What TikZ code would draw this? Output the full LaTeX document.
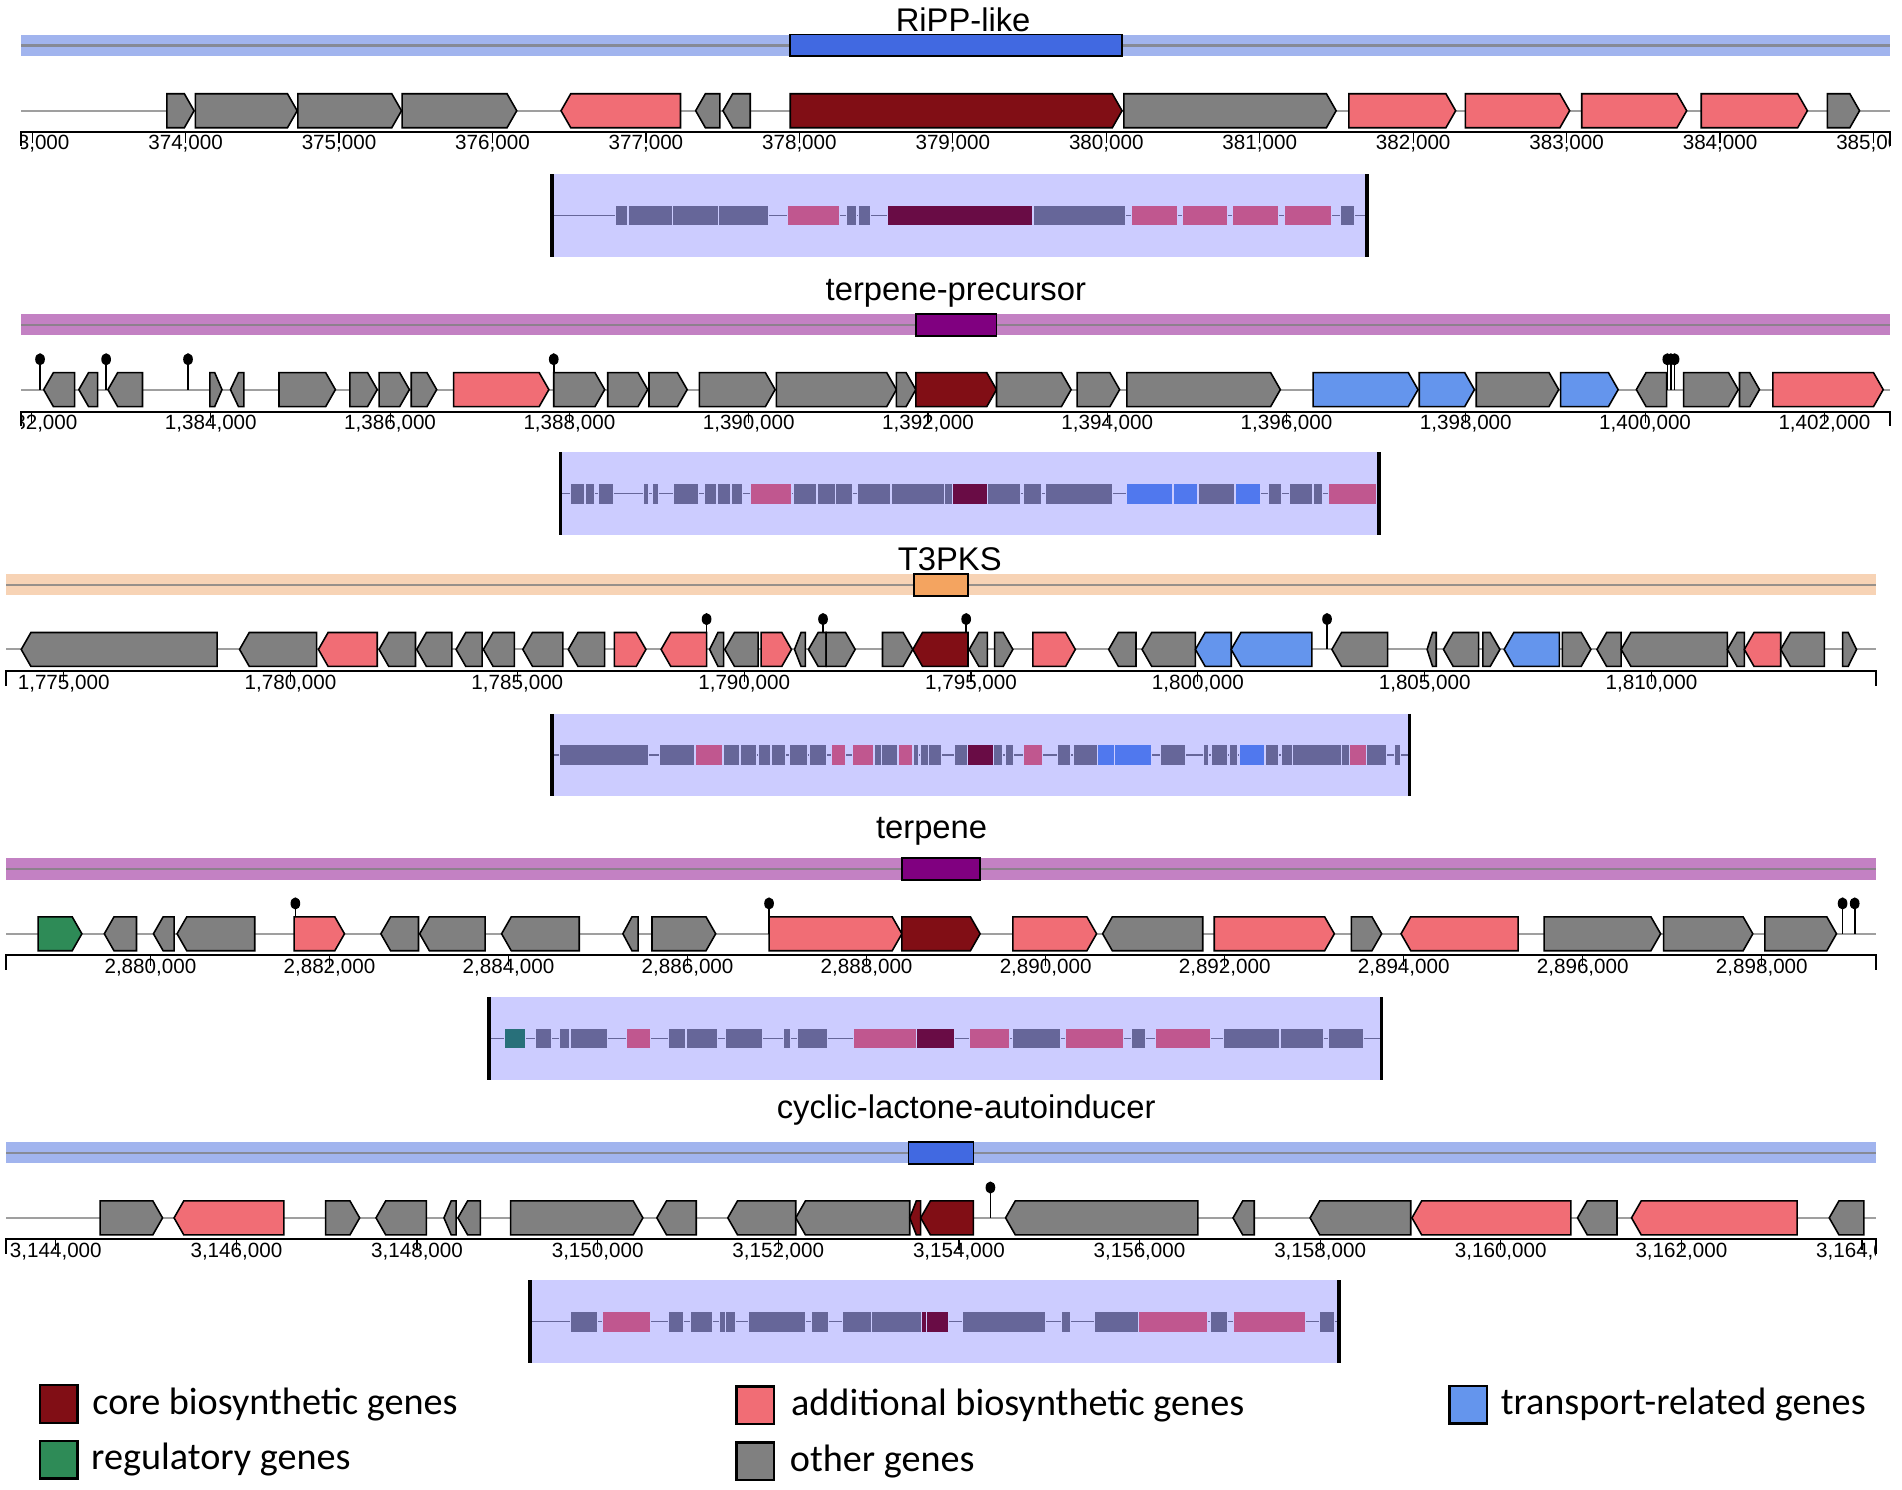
\documentclass[tikz,border=0pt]{standalone}
\usepackage{fontspec}
\setmainfont{Liberation Sans}
\newfontfamily\legfont{Carlito}
\usetikzlibrary{positioning}

\definecolor{othergrey}{HTML}{808080}
\definecolor{addpink}{HTML}{F16D75}
\definecolor{corered}{HTML}{810E15}
\definecolor{transblue}{HTML}{6495ED}
\definecolor{reggreen}{HTML}{2E8B57}
\definecolor{ripband}{HTML}{A1B4EE}
\definecolor{ripbox}{HTML}{4169E1}
\definecolor{terpband}{HTML}{C381C3}
\definecolor{terpbox}{HTML}{800080}
\definecolor{pksband}{HTML}{F7D3B5}
\definecolor{pksbox}{HTML}{F4A460}
\definecolor{minibg}{HTML}{CCCCFF}
\definecolor{minislate}{HTML}{666699}
\definecolor{minipink}{HTML}{C0578F}
\definecolor{minicore}{HTML}{690C45}
\definecolor{miniblue}{HTML}{5078EE}
\definecolor{miniteal}{HTML}{28707A}

% panel set-up: row y, row left, row right, map left, map right, map y
\newcommand{\panel}[6]{%
  \def\gy{#1}\def\rl{#2}\def\rr{#3}%
  \def\mL{#4}\def\mR{#5}\def\my{#6}%
  \pgfmathsetmacro{\mk}{(#5-#4)/(#3-#2)}%
  \draw[rowline] (#2,#1) -- (#3,#1);
  \fill[minibg] (#4,#6-34) rectangle (#5,#6+34);
  \draw[mapline] (#4,#6) -- (#5,#6);
}
% small copy of a gene in the overview box
\newcommand{\mapblock}[3]{%
  \pgfmathsetmacro{\ma}{\mL+(#1-\rl)*\mk}%
  \pgfmathsetmacro{\mb}{\mL+(#2-\rl)*\mk}%
  \filldraw[mapgene, mini #3] (\ma,\my-8.5) rectangle (\mb,\my+8.5);}
% genes on the forward / reverse strand
\newcommand{\fgene}[3]{%
  \pgfmathsetmacro{\hl}{min(8,0.6*(#2-#1))}%
  \draw[gene,#3] (#1,\gy-14) -- (#2-\hl,\gy-14) -- (#2,\gy) -- (#2-\hl,\gy+14) -- (#1,\gy+14) -- cycle;
  \mapblock{#1}{#2}{#3}}
\newcommand{\rgene}[3]{%
  \pgfmathsetmacro{\hl}{min(8,0.6*(#2-#1))}%
  \draw[gene,#3] (#2,\gy-14) -- (#1+\hl,\gy-14) -- (#1,\gy) -- (#1+\hl,\gy+14) -- (#2,\gy+14) -- cycle;
  \mapblock{#1}{#2}{#3}}
% terminator
\newcommand{\lolli}[1]{%
  \draw[lolline] (#1,\gy) -- (#1,\gy-25);
  \fill (#1,\gy-25) ellipse [x radius=4, y radius=5];}
% region band: y, band colour, box from, box to, box colour
\newcommand{\band}[5]{%
  \fill[#2] (\rl,#1-8.7) rectangle (\rr,#1+8.7);
  \draw[bandline] (\rl,#1) -- (\rr,#1);
  \filldraw[regionbox, fill=#5] (#3,#1-9) rectangle (#4,#1+9);}
% ruler: name, y, first tick, step, labels
\newcommand{\ruler}[5]{%
  \draw[axisline] (\rl,#2+12) -- (\rl,#2) -- (\rr,#2) -- (\rr,#2+12);
  \begin{scope}
    \clip (\rl,#2) rectangle (\rr,#2+30);
    \foreach \lab [count=\k from 0] in {#5} {
      \pgfmathsetmacro{\tx}{#3+#4*\k}
      \draw[tick] (\tx,#2) -- (\tx,#2+9);
      \node[ticklabel] (#1\k) at (\tx,#2+15) {\lab};
    }
  \end{scope}}
\newcommand{\mapends}{%
  \draw[mapend] (\mL,\my-34) -- (\mL,\my+34) (\mR,\my-34) -- (\mR,\my+34);}

\begin{document}
\begin{tikzpicture}[x=1pt, y=-1pt,
    title/.style={font=\fontsize{27}{30}\selectfont, anchor=base, inner sep=0},
    ticklabel/.style={font=\fontsize{17}{19}\selectfont, anchor=base, inner sep=0},
    gene/.style={draw=black, line width=1.3pt, line join=miter},
    othergene/.style={fill=othergrey},
    addgene/.style={fill=addpink},
    coregene/.style={fill=corered},
    transgene/.style={fill=transblue},
    reggene/.style={fill=reggreen},
    mapgene/.style={draw=minibg, line width=0.5pt},
    mini othergene/.style={fill=minislate},
    mini addgene/.style={fill=minipink},
    mini coregene/.style={fill=minicore},
    mini transgene/.style={fill=miniblue},
    mini reggene/.style={fill=miniteal},
    rowline/.style={draw=gray!75, line width=1.6pt},
    mapline/.style={draw=minislate, line width=1.2pt},
    mapend/.style={draw=black, line width=3pt},
    bandline/.style={draw=gray, opacity=0.8, line width=1.8pt},
    regionbox/.style={draw=black, line width=1.5pt},
    axisline/.style={draw=black, line width=1.6pt},
    tick/.style={draw=black, line width=1pt},
    lolline/.style={draw=black, line width=1.3pt},
    legbox/.style={draw=black, line width=2pt, minimum width=31, minimum height=31, inner sep=0},
    legtext/.style={font=\legfont\fontsize{31.5}{34}\selectfont, inner sep=0, anchor=west}]

    \path[use as bounding box, fill=white] (0,0) rectangle (1568,1228);

    % RiPP-like
    \node[title] (ripp) at (794,26) {RiPP-like};
    \panel{91.3}{17.5}{1558}{455}{1127}{177.5}
    \band{37.5}{ripband}{651.5}{925}{ripbox}
    \fgene{137.5}{160}{othergene}
    \fgene{161}{245}{othergene}
    \fgene{245.5}{331}{othergene}
    \fgene{331.5}{426}{othergene}
    \rgene{462.5}{561}{addgene}
    \rgene{573.5}{593.5}{othergene}
    \rgene{596}{618.5}{othergene}
    \fgene{651.5}{925}{coregene}
    \fgene{926.5}{1101.5}{othergene}
    \fgene{1112}{1200}{addgene}
    \fgene{1208}{1294}{addgene}
    \fgene{1304}{1390.5}{addgene}
    \fgene{1402.5}{1490}{addgene}
    \fgene{1506.5}{1533}{othergene}
    \mapends
    \ruler{ra}{108.5}{26.5}{126.5}{{373,000},{374,000},{375,000},{376,000},{377,000},{378,000},{379,000},{380,000},{381,000},{382,000},{383,000},{384,000},{385,000}}

    % terpene-precursor
    \node[title] (terpprec) at (788,248) {terpene-precursor};
    \panel{321.2}{17.5}{1558}{462}{1137}{407}
    \band{267.7}{terpband}{755}{821.5}{terpbox}
    \foreach \p in {33,87.5,155,456.5,1374.5,1377.5,1380.5} {\lolli{\p}}
    \rgene{36}{61.5}{othergene}
    \rgene{65}{80.5}{othergene}
    \rgene{89}{117.5}{othergene}
    \fgene{173}{183}{othergene}
    \rgene{190}{201}{othergene}
    \fgene{230}{276.5}{othergene}
    \fgene{288.5}{311}{othergene}
    \fgene{312.5}{337.5}{othergene}
    \fgene{339}{360}{othergene}
    \fgene{374}{452.5}{addgene}
    \fgene{456.5}{498.5}{othergene}
    \fgene{501}{534}{othergene}
    \fgene{535}{566.5}{othergene}
    \fgene{576.5}{639}{othergene}
    \fgene{640}{739}{othergene}
    \fgene{739}{755}{othergene}
    \fgene{755}{821.5}{coregene}
    \fgene{821.5}{883}{othergene}
    \fgene{888}{923}{othergene}
    \fgene{929}{1055.5}{othergene}
    \fgene{1082.5}{1169}{transgene}
    \fgene{1170}{1215.5}{transgene}
    \fgene{1217}{1285}{othergene}
    \fgene{1286.5}{1334}{transgene}
    \rgene{1349}{1374}{othergene}
    \fgene{1388}{1433}{othergene}
    \fgene{1434}{1450.5}{othergene}
    \fgene{1461.5}{1552.5}{addgene}
    \mapends
    \ruler{rb}{339.4}{26}{147.8}{{1,382,000},{1,384,000},{1,386,000},{1,388,000},{1,390,000},{1,392,000},{1,394,000},{1,396,000},{1,398,000},{1,400,000},{1,402,000}}

    % T3PKS
    \node[title] (tpks) at (783,470) {T3PKS};
    \panel{535.4}{5}{1546.5}{455}{1162}{622.5}
    \band{482}{pksband}{753.5}{798}{pksbox}
    \foreach \p in {582.5,678.5,796.5,1094} {\lolli{\p}}
    \rgene{17.5}{179}{othergene}
    \rgene{197.5}{261}{othergene}
    \rgene{262.5}{311}{addgene}
    \rgene{312.5}{342.5}{othergene}
    \rgene{343.5}{372.5}{othergene}
    \rgene{376}{397.5}{othergene}
    \rgene{398.5}{424}{othergene}
    \rgene{431}{464}{othergene}
    \rgene{468.5}{498.5}{othergene}
    \fgene{506.5}{532.5}{addgene}
    \rgene{545}{582.5}{addgene}
    \rgene{585}{596.5}{othergene}
    \rgene{597.5}{625}{othergene}
    \fgene{627.5}{652.5}{addgene}
    \rgene{655}{664}{othergene}
    \rgene{666.5}{681}{othergene}
    \fgene{681}{705}{othergene}
    \fgene{727.5}{752.5}{othergene}
    \rgene{752.5}{798}{coregene}
    \rgene{799}{814}{othergene}
    \fgene{820}{835}{othergene}
    \fgene{851.5}{886.5}{addgene}
    \rgene{914}{936.5}{othergene}
    \rgene{941.5}{985.5}{othergene}
    \rgene{985.5}{1015}{transgene}
    \rgene{1015}{1081.5}{transgene}
    \rgene{1098}{1144}{othergene}
    \rgene{1176.5}{1184}{othergene}
    \rgene{1190}{1219}{othergene}
    \fgene{1222.5}{1236.5}{othergene}
    \rgene{1240}{1285.5}{transgene}
    \fgene{1288}{1311.5}{othergene}
    \rgene{1316.5}{1336.5}{othergene}
    \rgene{1336.5}{1424}{othergene}
    \rgene{1424}{1438}{othergene}
    \rgene{1438}{1468}{addgene}
    \rgene{1468}{1504}{othergene}
    \fgene{1519}{1530.5}{othergene}
    \mapends
    \ruler{rc}{553.2}{52.5}{187}{{1,775,000},{1,780,000},{1,785,000},{1,790,000},{1,795,000},{1,800,000},{1,805,000},{1,810,000}}

    % terpene
    \node[title] (terp) at (768,691) {terpene};
    \panel{769.8}{5}{1546.5}{403}{1139}{856}
    \band{716.4}{terpband}{743.5}{808}{terpbox}
    \foreach \p in {243.5,634,1519,1529} {\lolli{\p}}
    \fgene{31.5}{67.5}{reggene}
    \rgene{86}{112.5}{othergene}
    \rgene{126.5}{143.5}{othergene}
    \rgene{146}{210}{othergene}
    \fgene{242.5}{284}{addgene}
    \rgene{314}{345}{othergene}
    \rgene{346}{400}{othergene}
    \rgene{413.5}{477.5}{othergene}
    \rgene{513.5}{526}{othergene}
    \fgene{537.5}{590}{othergene}
    \fgene{634}{743.5}{addgene}
    \fgene{743.5}{808}{coregene}
    \fgene{835}{904}{addgene}
    \rgene{909}{991.5}{othergene}
    \fgene{1001}{1100}{addgene}
    \fgene{1114}{1139}{othergene}
    \rgene{1155}{1251.5}{addgene}
    \fgene{1273}{1369}{othergene}
    \fgene{1371.5}{1445}{othergene}
    \fgene{1455}{1514}{othergene}
    \mapends
    \ruler{rd}{787.3}{124}{147.6}{{2,880,000},{2,882,000},{2,884,000},{2,886,000},{2,888,000},{2,890,000},{2,892,000},{2,894,000},{2,896,000},{2,898,000}}

    % cyclic-lactone-autoinducer
    \node[title] (cyclic) at (796.5,922) {cyclic-lactone-autoinducer};
    \panel{1004}{5}{1546.5}{437}{1104}{1089.5}
    \band{950.3}{ripband}{749}{802.5}{ripbox}
    \lolli{816.5}
    \fgene{82.5}{134}{othergene}
    \rgene{143.5}{234}{addgene}
    \fgene{268.5}{296.5}{othergene}
    \rgene{310}{351.5}{othergene}
    \rgene{366}{376}{othergene}
    \rgene{377.5}{396}{othergene}
    \fgene{421}{530}{othergene}
    \rgene{541.5}{574}{othergene}
    \rgene{600}{656}{othergene}
    \rgene{656}{750}{othergene}
    \rgene{750}{759}{coregene}
    \rgene{759}{802.5}{coregene}
    \rgene{829}{987.5}{othergene}
    \rgene{1016.5}{1034}{othergene}
    \rgene{1080}{1163}{othergene}
    \rgene{1164}{1295}{addgene}
    \rgene{1300.5}{1333}{othergene}
    \rgene{1345}{1481.5}{addgene}
    \rgene{1508}{1536.5}{othergene}
    \mapends
    \ruler{re}{1021.4}{46}{148.9}{{3,144,000},{3,146,000},{3,148,000},{3,150,000},{3,152,000},{3,154,000},{3,156,000},{3,158,000},{3,160,000},{3,162,000},{3,164,000}}

    % Legend
    \node[legbox, coregene] (kcore) at (48.5,1157.5) {};
    \node[legtext, right=11pt of kcore] (lcore) {core biosynthetic genes};
    \node[legbox, reggene] (kreg) at (48.5,1203.5) {};
    \node[legtext, right=10pt of kreg] (lreg) {regulatory genes};
    \node[legbox, addgene] (kadd) at (622.5,1158.5) {};
    \node[legtext, right=13pt of kadd] (ladd) {additional biosynthetic genes};
    \node[legbox, othergene] (kother) at (622.5,1204.5) {};
    \node[legtext, right=12pt of kother] (lother) {other genes};
    \node[legbox, transgene] (ktrans) at (1210.5,1158) {};
    \node[legtext, right=10pt of ktrans] (ltrans) {transport-related genes};
\end{tikzpicture}
\end{document}
